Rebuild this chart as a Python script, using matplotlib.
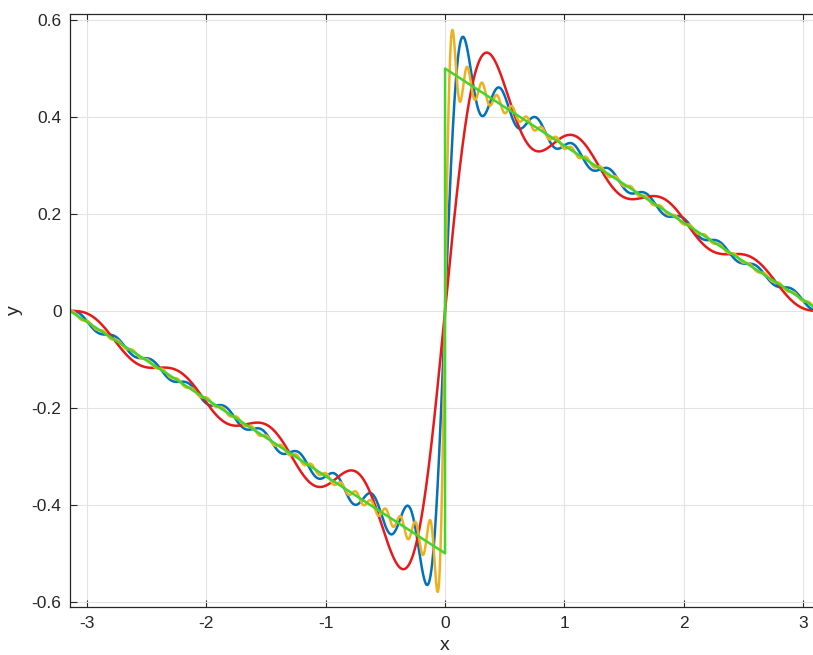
import numpy as np
import matplotlib
matplotlib.use("Agg")
import matplotlib.pyplot as plt

# harmonics kept in each partial sum of  f(x) = (1/pi) * sum sin(n x)/n
n_terms = [20, 8, 50]
colors = ['#0072BD', '#E8191A', '#EDB120']

# the exact sawtooth (green)
x_exact = [-np.pi, 0.0, 0.0, np.pi]
y_exact = [0.0, -0.5, 0.5, 0.0]

x_ticks = [-3, -2, -1, 0, 1, 2, 3]
y_ticks = [-0.6, -0.4, -0.2, 0, 0.2, 0.4, 0.6]
y_tick_labels = ['-0.6', '-0.4', '-0.2', '0', '0.2', '0.4', '0.6']

plt.rcParams['font.family'] = ['Liberation Sans', 'DejaVu Sans']
plt.rcParams['axes.unicode_minus'] = False

fig = plt.figure(figsize=(8.13, 6.55), dpi=100)
ax = fig.add_axes([0.0859, 0.0737, 0.923, 0.9044])

x = np.linspace(-np.pi, np.pi, 4001)
for N, c in zip(n_terms, colors):
    n = np.arange(1, N + 1)
    s = (np.sin(np.outer(x, n)) / n).sum(axis=1) / np.pi
    ax.plot(x, s, color=c, lw=1.8)

ax.plot(x_exact, y_exact, color='#44D42C', lw=1.8)

ax.set_xlim(-np.pi, np.pi)
ax.set_ylim(-0.6103, 0.6118)
ax.set_xticks(x_ticks)
ax.set_yticks(y_ticks)
ax.set_yticklabels(y_tick_labels)
ax.grid(True, color='#e3e3e3', lw=0.8)
ax.set_axisbelow(True)
ax.tick_params(direction='in', top=True, right=True, labelsize=12.5,
               colors='#262626', length=5, width=0.8)
ax.tick_params(axis='x', pad=7)
ax.tick_params(axis='y', pad=6)
for sp in ax.spines.values():
    sp.set_color('#262626')
    sp.set_linewidth(0.9)
ax.set_xlabel('x', fontsize=14, color='#262626', labelpad=4)
ax.set_ylabel('y', fontsize=14, color='#262626', labelpad=6)

fig.savefig('out.png', dpi=100)
